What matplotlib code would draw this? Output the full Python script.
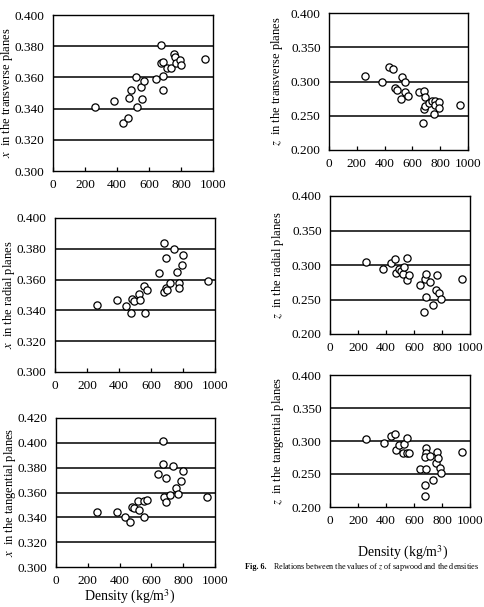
import matplotlib
matplotlib.use("Agg")
import matplotlib.pyplot as plt

plt.rcParams['font.family'] = ['Liberation Serif', 'DejaVu Serif']
plt.rcParams['mathtext.fontset'] = 'stix'

# density (kg/m3) and x / z values
dens_xt = [260, 381, 437, 469, 475, 490, 517, 527, 552, 556, 567, 642, 677, 677,
           688, 688, 688, 713, 740, 756, 765, 771, 792, 798, 948]
x_trans = [0.341, 0.345, 0.331, 0.334, 0.347, 0.352, 0.360, 0.341, 0.354, 0.346,
           0.358, 0.359, 0.381, 0.369, 0.370, 0.361, 0.352, 0.366, 0.366, 0.375,
           0.373, 0.369, 0.371, 0.368, 0.372]

dens_zt = [260, 380, 430, 464, 476, 488, 522, 517, 550, 550, 565, 644, 685, 688,
           675, 680, 692, 716, 740, 764, 760, 752, 793, 788, 945]
z_trans = [0.308, 0.300, 0.321, 0.318, 0.291, 0.287, 0.306, 0.275, 0.300, 0.285,
           0.279, 0.285, 0.286, 0.278, 0.240, 0.260, 0.264, 0.268, 0.272, 0.272,
           0.265, 0.253, 0.270, 0.262, 0.265]

dens_xr = [263, 385, 442, 474, 480, 495, 526, 533, 558, 562, 573, 653, 680, 693,
           684, 695, 700, 720, 741, 762, 775, 777, 796, 802, 954]
x_rad = [0.3435, 0.3465, 0.343, 0.338, 0.3475, 0.346, 0.3505, 0.3465, 0.3557, 0.338,
         0.353, 0.3646, 0.3837, 0.374, 0.352, 0.3548, 0.353, 0.3578, 0.3796, 0.365,
         0.3578, 0.3546, 0.3698, 0.3759, 0.3593]

dens_zr = [256, 380, 433, 467, 474, 490, 507, 519, 526, 550, 550, 562, 641, 675,
           687, 711, 684, 672, 734, 754, 766, 782, 794, 943]
z_rad = [0.304, 0.2947, 0.3024, 0.308, 0.289, 0.2947, 0.2917, 0.2869, 0.2966, 0.310,
         0.2777, 0.285, 0.271, 0.279, 0.287, 0.276, 0.2534, 0.2316, 0.242, 0.264,
         0.286, 0.259, 0.251, 0.2796]

dens_xg = [260, 382, 436, 465, 476, 493, 518, 524, 553, 556, 570, 644, 675, 675,
           690, 681, 690, 717, 738, 755, 770, 786, 797, 948]
x_tang = [0.344, 0.3446, 0.340, 0.3365, 0.348, 0.3478, 0.3532, 0.3456, 0.353, 0.3403,
          0.3542, 0.3752, 0.4017, 0.383, 0.3719, 0.3564, 0.3526, 0.3577, 0.3816,
          0.3639, 0.3591, 0.3692, 0.377, 0.3564]

dens_zg = [258, 383, 435, 467, 474, 490, 519, 526, 553, 550, 567, 641, 684, 684,
           687, 675, 715, 675, 675, 737, 754, 766, 770, 785, 794, 943]
z_tang = [0.3033, 0.2972, 0.3074, 0.3105, 0.287, 0.2936, 0.2818, 0.2962, 0.3043,
          0.2818, 0.2818, 0.2573, 0.2573, 0.289, 0.2818, 0.2752, 0.2767, 0.2338,
          0.2169, 0.2404, 0.2665, 0.2834, 0.2747, 0.2598, 0.2522, 0.2839]

x_ticks = [0, 200, 400, 600, 800, 1000]

W, H = 484, 607
fig = plt.figure(figsize=(W / 100, H / 100), dpi=100)


def panel(left, right, top, bottom, dens, vals, yticks, ylabel, labelpad):
    ax = fig.add_axes([left / W, 1 - bottom / H, (right - left) / W, (bottom - top) / H])
    for yv in yticks[1:-1]:
        ax.axhline(yv, color='black', lw=1.1, zorder=1)
    ax.plot(dens, vals, 'o', ms=5.2, mfc='white', mec='black', mew=0.9,
            zorder=3, clip_on=False)
    ax.set_xlim(0, 1000)
    ax.set_ylim(yticks[0], yticks[-1])
    ax.set_xticks(x_ticks)
    ax.set_yticks(yticks)
    ax.set_yticklabels(['%.3f' % v for v in yticks])
    ax.tick_params(direction='in', length=3, width=0.9, labelsize=9.5, pad=6)
    ax.tick_params(axis='y', length=0)
    for s in ax.spines.values():
        s.set_linewidth(1.0)
    ax.set_ylabel(ylabel, fontsize=9, labelpad=labelpad)
    return ax


yx = [0.300, 0.320, 0.340, 0.360, 0.380, 0.400]
yxg = [0.300, 0.320, 0.340, 0.360, 0.380, 0.400, 0.420]
yz = [0.200, 0.250, 0.300, 0.350, 0.400]

panel(53, 213, 15, 171, dens_xt, x_trans, yx, r'$x$  in the transverse planes', 0)
panel(55, 215, 218, 372, dens_xr, x_rad, yx, r'$x$  in the radial planes', 0)
panel(56, 215, 418, 567, dens_xg, x_tang, yxg, r'$x$  in the tangential planes', 0)
panel(329, 468, 13, 150, dens_zt, z_trans, yz, r'$z$  in the transverse planes', 4)
panel(330, 470, 196, 334, dens_zr, z_rad, yz, r'$z$  in the radial planes', 4)
panel(330, 470, 375, 507, dens_zg, z_tang, yz, r'$z$  in the tangential planes', 4)

fig.text(403 / W, 1 - 553 / H, r'Density (kg/m$^3$)', ha='center', va='center', fontsize=10)
fig.text(130 / W, 1 - 606 / H, r'Density (kg/m$^3$)', ha='center', va='bottom', fontsize=10)
fig.text(245 / W, 1 - 567 / H, 'Fig. 6.', ha='left', va='center', fontsize=5.9,
         fontweight='bold')
fig.text(273 / W, 1 - 567 / H,
         'Relations between the values of $z$ of sapwood and the densities',
         ha='left', va='center', fontsize=5.9)

fig.savefig('out.png', dpi=100)
